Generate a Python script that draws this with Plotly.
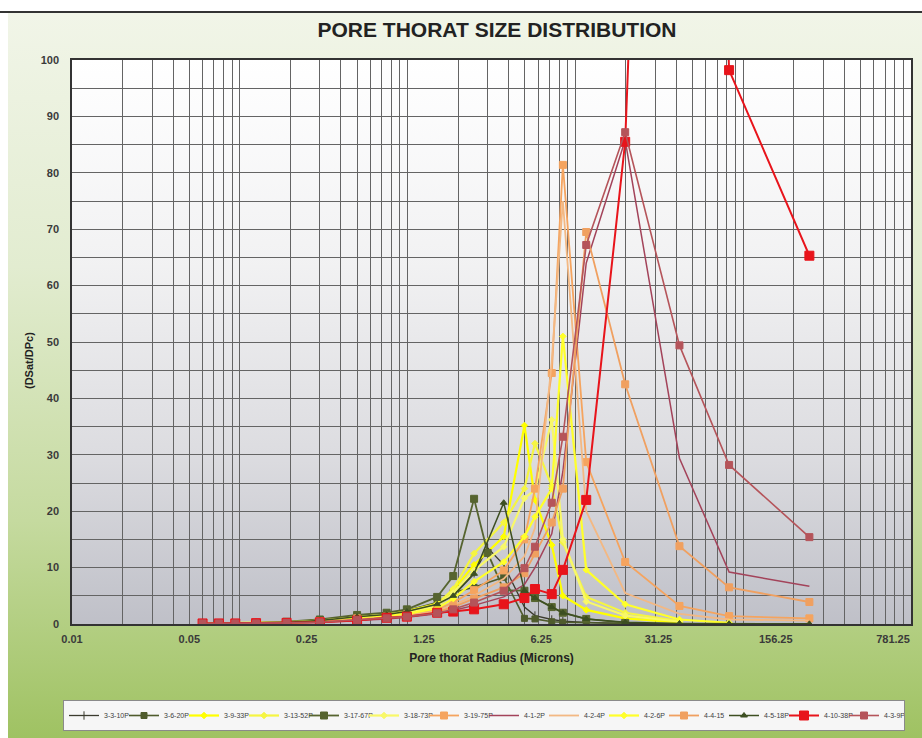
import base64
import plotly.graph_objects as go

# ---------------- data ----------------
radius = [0.060, 0.075, 0.094, 0.125, 0.19, 0.30, 0.50, 0.75, 0.99, 1.50, 1.87, 2.49,
          3.0, 3.74, 4.97, 5.74, 7.23, 8.42, 11.6, 19.8, 41.7, 82.4, 248]

s_3_3_10P = [0.1, 0.1, 0.1, 0.2, 0.3, 0.6, 1.3, 1.7, 2.2, 3.4, 5.2, 9.0,
             13.5, 10.5, 3.0, 1.5, 0.8, 0.5, 0.3, 0.1, 0.05, None, None]
s_3_6_20P = [0.1, 0.1, 0.1, 0.2, 0.3, 0.7, 1.5, 1.9, 2.4, 3.8, 5.6, 6.5,
             None, 8.3, 1.0, 0.9, 0.4, 0.3, 0.2, 0.1, None, None, None]
s_3_9_33P = [0.1, 0.1, 0.1, 0.2, 0.3, 0.7, 1.4, 1.8, 2.3, 3.6, 6.0, 10.5,
             None, 15.5, 35.2, 22.0, 14.0, 5.0, 2.5, 1.0, 0.3, None, None]
s_3_13_52P = [0.1, 0.1, 0.1, 0.2, 0.3, 0.6, 1.3, 1.7, 2.2, 3.5, 6.2, 12.5,
              None, 18.0, 24.0, 32.0, 24.5, 14.5, 4.8, 2.0, 0.5, None, None]
s_3_17_67P = [0.1, 0.1, 0.1, 0.2, 0.4, 0.8, 1.6, 2.0, 2.6, 4.8, 8.5, 22.2,
              12.6, 6.0, 5.9, 4.6, 3.0, 2.0, 0.9, 0.2, None, None, None]
s_3_18_73P = [0.1, 0.1, 0.1, 0.2, 0.3, 0.6, 1.2, 1.6, 2.0, 3.2, 5.5, 9.5,
              None, 13.7, 22.3, 23.8, 36.2, 15.0, 4.0, 1.5, 0.4, None, None]
s_3_19_75P = [0.1, 0.1, 0.1, 0.1, 0.2, 0.5, 1.0, 1.3, 1.7, 2.6, 3.8, 6.0,
              None, 9.5, 15.0, 24.0, 44.5, 81.4, 28.7, 11.0, 3.2, 1.4, 1.0]
s_4_1_2P = [0.1, 0.1, 0.1, 0.1, 0.2, 0.3, 0.6, 0.9, 1.2, 1.8, 2.4, 3.3,
            None, 4.8, 7.0, 10.0, 16.0, 27.0, 64.0, 85.8, 29.4, 9.2, 6.7]
s_4_2_4P = [0.1, 0.1, 0.1, 0.1, 0.2, 0.4, 0.9, 1.2, 1.5, 2.3, 3.3, 5.0,
            None, 8.0, 12.0, 17.0, 46.5, 75.0, 20.0, 5.5, 1.8, 0.8, 0.6]
s_4_2_6P = [0.1, 0.1, 0.1, 0.1, 0.2, 0.5, 1.0, 1.4, 1.8, 2.8, 4.5, 7.5,
            None, 11.0, 15.5, 19.0, 24.0, 51.0, 9.6, 3.5, 0.8, 0.2, None]
s_4_4_15 = [0.1, 0.1, 0.1, 0.1, 0.2, 0.4, 0.8, 1.1, 1.4, 2.1, 3.0, 4.5,
            None, 6.5, 9.0, 12.5, 18.0, 24.0, 69.5, 42.5, 13.8, 6.5, 3.9]
s_4_5_18P = [0.1, 0.1, 0.1, 0.2, 0.3, 0.6, 1.3, 1.7, 2.2, 3.5, 5.0, 8.9,
             None, 21.5, 5.9, 4.6, 3.0, 2.0, 0.9, 0.3, 0.1, 0.05, 0.03]
s_4_10_38P = [0.1, 0.1, 0.1, 0.15, 0.2, 0.3, 0.6, 1.1, 1.3, 2.0, 2.2, 2.6,
              None, 3.5, 4.6, 6.2, 5.3, 9.6, 22.0, 85.5, 340.0, 98.2, 65.3]
s_4_3_9P = [0.1, 0.1, 0.1, 0.1, 0.2, 0.3, 0.7, 1.0, 1.3, 1.9, 2.6, 3.8,
            None, 5.9, 9.9, 13.7, 21.5, 33.2, 67.2, 87.2, 49.4, 28.2, 15.4]

series_names = ["3-3-10P", "3-6-20P", "3-9-33P", "3-13-52P", "3-17-67P", "3-18-73P",
                "3-19-75P", "4-1-2P", "4-2-4P", "4-2-6P", "4-4-15", "4-5-18P",
                "4-10-38P", "4-3-9P"]
series_values = [s_3_3_10P, s_3_6_20P, s_3_9_33P, s_3_13_52P, s_3_17_67P, s_3_18_73P,
                 s_3_19_75P, s_4_1_2P, s_4_2_4P, s_4_2_6P, s_4_4_15, s_4_5_18P,
                 s_4_10_38P, s_4_3_9P]

x_tickvals = [0.01, 0.05, 0.25, 1.25, 6.25, 31.25, 156.25, 781.25]
x_ticktext = ["0.01", "0.05", "0.25", "1.25", "6.25", "31.25", "156.25", "781.25"]

# ---------------- styles ----------------
styles = {
    "3-3-10P":  dict(color="#3b3b2e", symbol="line-ns", size=6, width=1.3),
    "3-6-20P":  dict(color="#4f5b2c", symbol="square", size=6, width=1.6),
    "3-9-33P":  dict(color="#ffff00", symbol="diamond", size=5, width=2.2),
    "3-13-52P": dict(color="#f5f542", symbol="diamond", size=5, width=2.2),
    "3-17-67P": dict(color="#56642f", symbol="square", size=7, width=1.8),
    "3-18-73P": dict(color="#f8f868", symbol="diamond", size=5, width=2.2),
    "3-19-75P": dict(color="#f5a45f", symbol="square", size=7, width=1.8),
    "4-1-2P":   dict(color="#a3435a", symbol=None, size=0, width=1.5),
    "4-2-4P":   dict(color="#f3b883", symbol=None, size=0, width=1.8),
    "4-2-6P":   dict(color="#ffff2a", symbol="diamond", size=5, width=2.2),
    "4-4-15":   dict(color="#f0a060", symbol="square", size=7, width=1.8),
    "4-5-18P":  dict(color="#3d4f22", symbol="triangle-up", size=6, width=1.5),
    "4-10-38P": dict(color="#e8141b", symbol="square", size=9, width=2.0),
    "4-3-9P":   dict(color="#b5545a", symbol="square", size=7, width=1.6),
}

fig = go.Figure()
for name, vals in zip(series_names, series_values):
    st = styles[name]
    if st["symbol"] is None:
        mode = "lines"
        marker = None
    else:
        mode = "lines+markers"
        marker = dict(symbol=st["symbol"], size=st["size"], color=st["color"],
                      line=dict(color=st["color"], width=1))
    fig.add_trace(go.Scatter(x=radius, y=vals, name=name, mode=mode,
                             connectgaps=True, cliponaxis=True,
                             line=dict(color=st["color"], width=st["width"]),
                             marker=marker))

# ---------------- gradient backgrounds (as svg images) ----------------
def grad_svg(stops):
    st = "".join('<stop offset="%s" stop-color="%s"/>' % (o, c) for o, c in stops)
    svg = ('<svg xmlns="http://www.w3.org/2000/svg" width="100" height="100" '
           'viewBox="0 0 100 100" preserveAspectRatio="none"><defs>'
           '<linearGradient id="g" x1="0" y1="0" x2="0" y2="1">' + st +
           '</linearGradient></defs><rect x="0" y="0" width="100" height="100" fill="url(#g)"/></svg>')
    return "data:image/svg+xml;base64," + base64.b64encode(svg.encode()).decode()

W, H = 922, 738
ML, MR, MT, MB = 72, 11, 60, 114
PW, PH = W - ML - MR, H - MT - MB

paper_src = grad_svg([(0, "#f1f5e8"), (0.35, "#e2ecd0"), (0.7, "#c5da9f"), (1, "#9fc262")])
plot_src = grad_svg([(0, "#ffffff"), (0.35, "#f2f2f3"), (0.7, "#dcdce0"), (1, "#bfc0c8")])

images = [
    dict(source=paper_src, xref="paper", yref="paper",
         x=(8 - ML) / PW, y=1 + (MT - 13) / PH, sizex=(W - 8) / PW, sizey=(H - 13) / PH,
         sizing="stretch", layer="below", xanchor="left", yanchor="top"),
    dict(source=plot_src, xref="paper", yref="paper", x=0, y=1, sizex=1, sizey=1,
         sizing="stretch", layer="below", xanchor="left", yanchor="top"),
]

minor_x = [m * 10.0 ** k for k in range(-2, 3) for m in range(1, 10)] + [1000]
grid_col = "#646464"
txt_col = "#3a3a3a"

fig.update_layout(
    width=W, height=H,
    margin=dict(l=ML, r=MR, t=MT, b=MB, autoexpand=False),
    paper_bgcolor="#ffffff",
    plot_bgcolor="rgba(0,0,0,0)",
    images=images,
    font=dict(family="Liberation Sans, Arial, sans-serif", color=txt_col),
    title=dict(text="<b>PORE THORAT SIZE DISTRIBUTION</b>", x=(497 - ML) / PW, xanchor="center",
               xref="paper", y=1 - 30 / H, yanchor="middle",
               font=dict(size=21, color="#222222", family="Liberation Sans, Arial")),
    xaxis=dict(type="log", range=[-2, 3], tickvals=x_tickvals, ticktext=x_ticktext,
               showgrid=False, zeroline=False,
               ticks="outside", ticklen=4, tickcolor="rgba(0,0,0,0)",
               tickfont=dict(size=11, color=txt_col, weight="bold"),
               showline=True, linecolor="#333333", linewidth=1.5, mirror=True,
               minor=dict(tickvals=minor_x, showgrid=True, gridcolor=grid_col, gridwidth=1,
                          ticks=""),
               title=dict(text="<b>Pore thorat Radius (Microns)</b>",
                          font=dict(size=12, color="#222222"), standoff=10)),
    yaxis=dict(range=[0, 100], dtick=10, showgrid=True, gridcolor=grid_col, gridwidth=1,
               zeroline=False, ticks="outside", ticklen=9, tickcolor="rgba(0,0,0,0)",
               tickfont=dict(size=11, color=txt_col, weight="bold"),
               showline=True, linecolor="#333333", linewidth=1.5, mirror=True,
               minor=dict(dtick=5, showgrid=True, gridcolor=grid_col, gridwidth=1, ticks="")),
    legend=dict(orientation="h", x=(63 - ML) / PW, xanchor="left",
                y=-(700 - MT - PH) / PH, yanchor="top",
                bgcolor="#f6f6f6", bordercolor="#8a8a8a", borderwidth=1,
                font=dict(size=7, color="#404040"), entrywidth=15, itemwidth=30,
                tracegroupgap=0),
    annotations=[dict(text="<b>(DSat/DPc)</b>", textangle=-90, xref="paper", yref="paper",
                      x=(21 - ML) / PW, y=1 - (361 - MT) / PH, showarrow=False,
                      font=dict(size=11, color="#222222"))],
    shapes=[dict(type="line", xref="paper", yref="paper", x0=-ML / PW, x1=(W - ML) / PW,
                 y0=1 + (MT - 12) / PH, y1=1 + (MT - 12) / PH,
                 line=dict(color="#333333", width=2))],
)

fig.write_html("out.html", config={"displayModeBar": False},
               post_script="document.body.style.margin='0px';document.body.style.padding='0px';")
